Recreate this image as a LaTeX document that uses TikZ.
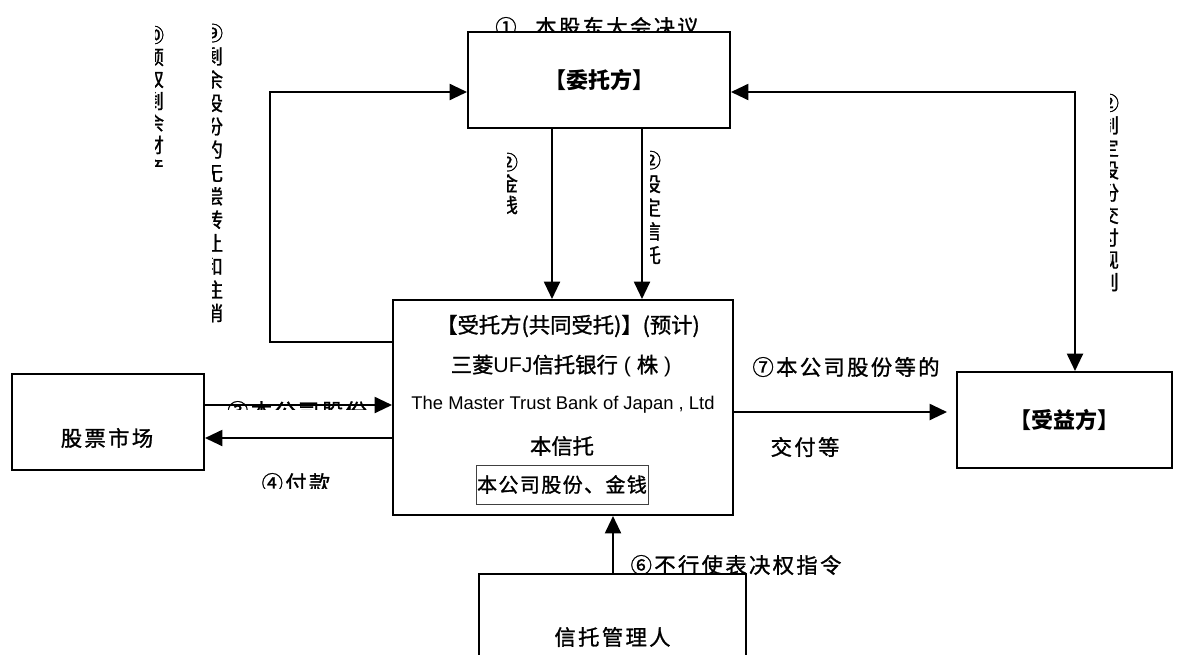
\documentclass[tikz,border=0pt]{standalone}
\usepackage{fontspec}
\setmainfont{Liberation Sans}
\newfontfamily\cjkplain{Noto Sans CJK SC}
\newfontfamily\cjk[FakeBold=1.2]{Noto Sans CJK SC}
\newfontfamily\cjkls[LetterSpace=11,FakeBold=1.2]{Noto Sans CJK SC}
\newfontfamily\cjkin[LetterSpace=7,FakeBold=1.2]{Noto Sans CJK SC}
\usetikzlibrary{arrows.meta}
\begin{document}
\begin{tikzpicture}[x=0.75pt,y=-0.75pt,
  box/.style={draw, line width=1.5pt, fill=white, inner sep=0pt},
  arr/.style={line width=1.5pt, -{Triangle[length=13pt,width=12pt]}},
  darr/.style={line width=1.5pt, {Triangle[length=13pt,width=12pt]}-{Triangle[length=13pt,width=12pt]}},
  lab/.style={font=\cjkls\fontsize{16}{19}\selectfont, inner sep=0pt},
  txt/.style={font=\fontsize{16}{19}\selectfont, inner sep=0pt},
  bold/.style={font=\cjkplain\bfseries\fontsize{16.5}{20}\selectfont},
  vlab/.style={font=\cjk\fontsize{15}{#1}\selectfont, align=center, inner sep=0pt}
]
\useasboundingbox (0,0) rectangle (1187,654);

% clipped vertical labels
\begin{scope}
  \clip (155,20) rectangle (175,180);
  \node[vlab=16.5pt] (v1) at (154,101) {⑩\\领\\取\\剩\\余\\财\\产};
\end{scope}
\begin{scope}
  \clip (212,20) rectangle (232,325);
  \node[vlab=17.5pt] (v2) at (213,173) {⑨\\剩\\余\\股\\份\\的\\无\\偿\\转\\让\\和\\注\\销};
\end{scope}
\begin{scope}
  \clip (1110,90) rectangle (1130,295);
  \node[vlab=16.8pt] (v3) at (1109,192.5) {②\\制\\定\\股\\份\\交\\付\\规\\则};
\end{scope}
\begin{scope}
  \clip (507,145) rectangle (527,225);
  \node[vlab=16.1pt] (v4) at (508,183.5) {②\\金\\钱};
\end{scope}
\begin{scope}
  \clip (650,145) rectangle (670,270);
  \node[vlab=17.8pt] (v5) at (651,207.5) {②\\设\\定\\信\\托};
\end{scope}

% clipped horizontal labels
\begin{scope}
  \clip (200,399.5) rectangle (390,409.5);
  \node[lab] (l3) at (297,411) {③本公司股份};
\end{scope}
\begin{scope}
  \clip (240,460) rectangle (350,488);
  \node[lab] (l4) at (296,483) {④付款};
\end{scope}

% labels partly hidden by boxes
\node[lab] (l1) at (597,27) {①\hspace{14pt}本股东大会决议};
\node[lab] (l6) at (736,565) {⑥不行使表决权指令};
\node[lab] (l7a) at (846,367) {⑦本公司股份等的};
\node[lab] (l7b) at (805,447) {交付等};

% boxes
\node[box, minimum width=196.5pt, minimum height=72pt, bold] (wt) at (599,80) {【委托方】};
\node[box, minimum width=255pt, minimum height=161.25pt] (tr) at (563,407.5) {};
\node[box, minimum width=144pt, minimum height=72pt] (sm) at (108,422) {};
\node[lab] (smt) at (107,438) {股票市场};
\node[box, minimum width=161.25pt, minimum height=72pt, bold] (sy) at (1064.5,420) {【受益方】};
\node[box, minimum width=200.25pt, minimum height=94.5pt, font=\cjkls\fontsize{16}{19}\selectfont] (mg) at (612.5,637) {信托管理人};

% trustee contents
\node[txt] (t1) at (568,326) {\cjk 【受托方(共同受托)】(预计)};
\node[txt] (t2) at (561,366) {{\cjk 三菱}UFJ{\cjk 信托银行} ( {\cjk 株} )};
\node[font=\fontsize{13.8}{16}\selectfont, inner sep=0pt] (t3) at (563,405) {The Master Trust Bank of Japan , Ltd};
\node[txt] (t4) at (562,446) {\cjk 本信托};
\node[draw=black!75, line width=0.75pt, minimum width=129pt, minimum height=29.25pt, inner sep=0pt,
      font=\cjkin\fontsize{15}{18}\selectfont] (t5) at (562,484.5) {本公司股份、金钱};

% helper coordinates
\coordinate (d1) at (552,200);
\coordinate (d2) at (642,200);
\coordinate (fb1) at (270,342);
\coordinate (fb2) at (270,92);
\coordinate (rc) at (1075,92);
\coordinate (c3) at (300,405);
\coordinate (c4) at (300,438);
\coordinate (c7e) at (947,412);
\coordinate (c6) at (613,540);

% connectors
\draw[arr] (wt.south -| d1) -- (tr.north -| d1);
\draw[arr] (wt.south -| d2) -- (tr.north -| d2);
\draw[arr] (tr.west |- fb1) -- (fb1) -- (fb2) -- (wt.west |- fb2);
\draw[darr] (wt.east |- rc) -- (rc) -- (sy.north -| rc);
\draw[arr] (sm.east |- c3) -- (tr.west |- c3);
\draw[arr] (tr.west |- c4) -- (sm.east |- c4);
\draw[arr] (tr.east |- c7e) -- (c7e);
\draw[arr] (mg.north -| c6) -- (tr.south -| c6);
\end{tikzpicture}
\end{document}
